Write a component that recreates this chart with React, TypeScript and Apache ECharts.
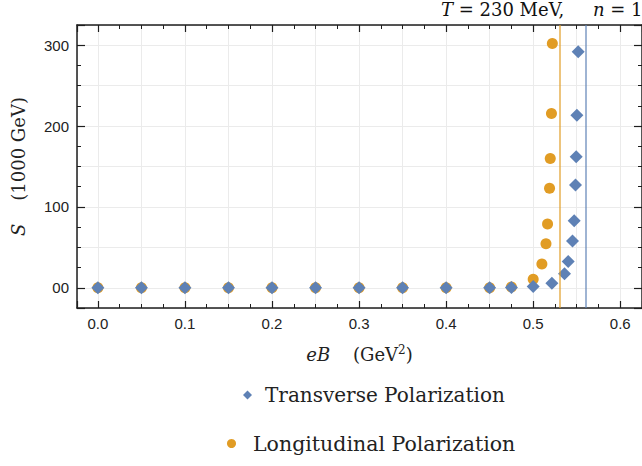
import React, { useEffect, useRef } from "react";
import * as echarts from "echarts";

// eB (GeV^2) and S (1000 GeV)
const xTransverse = [0, 0.05, 0.1, 0.15, 0.2, 0.25, 0.3, 0.35, 0.4, 0.45, 0.475, 0.5, 0.5215, 0.536, 0.5402, 0.5452, 0.5471, 0.5486, 0.5494, 0.5502, 0.5517];
const sTransverse = [0, 0, 0, 0, 0, 0, 0, 0, 0, 0, 0.5, 1.6, 5.5, 17.5, 32.5, 58, 83, 127, 162, 213.5, 292];
const xLongitudinal = [0, 0.05, 0.1, 0.15, 0.2, 0.25, 0.3, 0.35, 0.4, 0.45, 0.475, 0.5, 0.51, 0.5147, 0.5165, 0.5188, 0.5196, 0.521, 0.522];
const sLongitudinal = [0, 0, 0, 0, 0, 0, 0, 0, 0, 0, 1, 10.5, 29.5, 54.5, 79, 123, 160, 215.5, 302];
const criticalT = [0.56];
const criticalL = [0.53];
const seriesNames = ["Transverse Polarization", "Longitudinal Polarization"];

const BLUE = "#5E81B5";
const ORANGE = "#E19C24";
const FRAME = "#1e1e1e";
const SERIF = "'DejaVu Serif', serif";
const SANS = "'Liberation Sans', Arial, sans-serif";

const X_MIN = -0.024;
const X_MAX = 0.625;
const Y_MIN = -25;
const Y_MAX = 325;

function frameX(position: "top" | "bottom", labels: boolean) {
  return {
    type: "value",
    gridIndex: 0,
    position,
    min: X_MIN,
    max: X_MAX,
    minInterval: 0.1,
    maxInterval: 0.1,
    axisLine: { show: true, onZero: false, lineStyle: { color: FRAME, width: 1.5 } },
    axisTick: { show: true, inside: true, length: 7, lineStyle: { color: FRAME, width: 1.2 } },
    minorTick: { show: true, splitNumber: 4, length: 4, lineStyle: { color: FRAME, width: 1 } },
    axisLabel: {
      show: labels,
      showMinLabel: false,
      showMaxLabel: false,
      margin: 8,
      color: "#222",
      fontFamily: SANS,
      fontSize: 15,
      formatter: (v: number) => v.toFixed(1),
    },
    splitLine: { show: false },
    minorSplitLine: { show: false },
  };
}

function frameY(position: "left" | "right", labels: boolean) {
  return {
    type: "value",
    gridIndex: 0,
    position,
    min: Y_MIN,
    max: Y_MAX,
    minInterval: 100,
    maxInterval: 100,
    axisLine: { show: true, onZero: false, lineStyle: { color: FRAME, width: 1.5 } },
    axisTick: { show: true, inside: true, length: 8, lineStyle: { color: FRAME, width: 1.2 } },
    minorTick: { show: true, splitNumber: 4, length: 4, lineStyle: { color: FRAME, width: 1 } },
    axisLabel: {
      show: labels,
      showMinLabel: false,
      showMaxLabel: false,
      margin: 8,
      color: "#222",
      fontFamily: SANS,
      fontSize: 15,
      formatter: (v: number) => (v === 0 ? "00" : String(v)),
    },
    splitLine: { show: false },
  };
}

export default function App() {
  const ref = useRef<HTMLDivElement>(null);
  useEffect(() => {
    if (!ref.current) return;
    const chart = echarts.init(ref.current, null, { renderer: "svg" });
    const option = {
      animation: false,
      backgroundColor: "#ffffff",
      title: {
        text: "{i|T} = 230 MeV,     {i|n} = 1",
        left: 441,
        top: 0,
        padding: 0,
        textStyle: {
          fontFamily: SERIF,
          fontSize: 18,
          fontWeight: "normal",
          color: "#111",
          rich: {
            i: { fontFamily: SERIF, fontStyle: "italic", fontSize: 18, color: "#111" },
          },
        },
      },
      grid: { left: 77, top: 25, width: 566, height: 283, containLabel: false },
      xAxis: [
        {
          ...frameX("bottom", true),
          name: "{i|eB}    (GeV{s|2})",
          nameLocation: "middle",
          nameGap: 36,
          nameTextStyle: {
            fontFamily: SERIF,
            fontSize: 18,
            color: "#222",
            rich: {
              i: { fontFamily: SERIF, fontStyle: "italic", fontSize: 18, color: "#222" },
              s: { fontFamily: SERIF, fontSize: 12, verticalAlign: "top", padding: [0, 0, 8, 0], color: "#222" },
            },
          },
        },
        frameX("top", false),
        {
          type: "value",
          gridIndex: 0,
          position: "bottom",
          min: X_MIN,
          max: X_MAX,
          minInterval: 0.05,
          maxInterval: 0.05,
          axisLine: { show: false },
          axisTick: { show: false },
          axisLabel: { show: false },
          splitLine: { show: true, lineStyle: { color: "#ebebeb", width: 1 } },
        },
      ],
      yAxis: [
        {
          ...frameY("left", true),
          name: "{i|S}    (1000 GeV)",
          nameLocation: "middle",
          nameRotate: 90,
          nameGap: 50,
          nameTextStyle: {
            fontFamily: SERIF,
            fontSize: 18,
            color: "#222",
            rich: {
              i: { fontFamily: SERIF, fontStyle: "italic", fontSize: 18, color: "#222" },
            },
          },
        },
        frameY("right", false),
        {
          type: "value",
          gridIndex: 0,
          position: "left",
          min: Y_MIN,
          max: Y_MAX,
          minInterval: 50,
          maxInterval: 50,
          axisLine: { show: false },
          axisTick: { show: false },
          axisLabel: { show: false },
          splitLine: { show: true, lineStyle: { color: "#ebebeb", width: 1 } },
        },
      ],
      legend: [
        {
          data: [{ name: seriesNames[0], icon: "diamond" }],
          left: 243,
          top: 385,
          padding: 0,
          itemWidth: 9,
          itemHeight: 9,
          symbolKeepAspect: true,
          selectedMode: false,
          textStyle: { fontFamily: SERIF, fontSize: 20, color: "#222", padding: [0, 0, 0, 8] },
        },
        {
          data: [{ name: seriesNames[1], icon: "circle" }],
          left: 227,
          top: 433,
          padding: 0,
          itemWidth: 9,
          itemHeight: 9,
          symbolKeepAspect: true,
          selectedMode: false,
          textStyle: { fontFamily: SERIF, fontSize: 20.5, color: "#222", padding: [0, 0, 0, 12] },
        },
      ],
      series: [
        {
          name: seriesNames[1],
          type: "scatter",
          xAxisIndex: 0,
          yAxisIndex: 0,
          symbol: "circle",
          symbolSize: 11,
          itemStyle: { color: ORANGE, opacity: 1 },
          data: xLongitudinal.map((x, i) => [x, sLongitudinal[i]]),
          markLine: {
            silent: true,
            symbol: "none",
            label: { show: false },
            lineStyle: { color: "rgba(225,156,36,0.6)", width: 2, type: "solid" },
            data: criticalL.map((v) => ({ xAxis: v })),
          },
          z: 3,
        },
        {
          name: seriesNames[0],
          type: "scatter",
          xAxisIndex: 0,
          yAxisIndex: 0,
          symbol: "diamond",
          symbolSize: 13,
          itemStyle: { color: BLUE, opacity: 1 },
          data: xTransverse.map((x, i) => [x, sTransverse[i]]),
          markLine: {
            silent: true,
            symbol: "none",
            label: { show: false },
            lineStyle: { color: "rgba(94,129,181,0.75)", width: 1.6, type: "solid" },
            data: criticalT.map((v) => ({ xAxis: v })),
          },
          z: 4,
        },
      ],
    };
    chart.setOption(option as any);
    return () => chart.dispose();
  }, []);
  return (
    <div
      ref={ref}
      style={{ position: "fixed", left: 0, top: 0, width: 642, height: 466, background: "#fff" }}
    />
  );
}
